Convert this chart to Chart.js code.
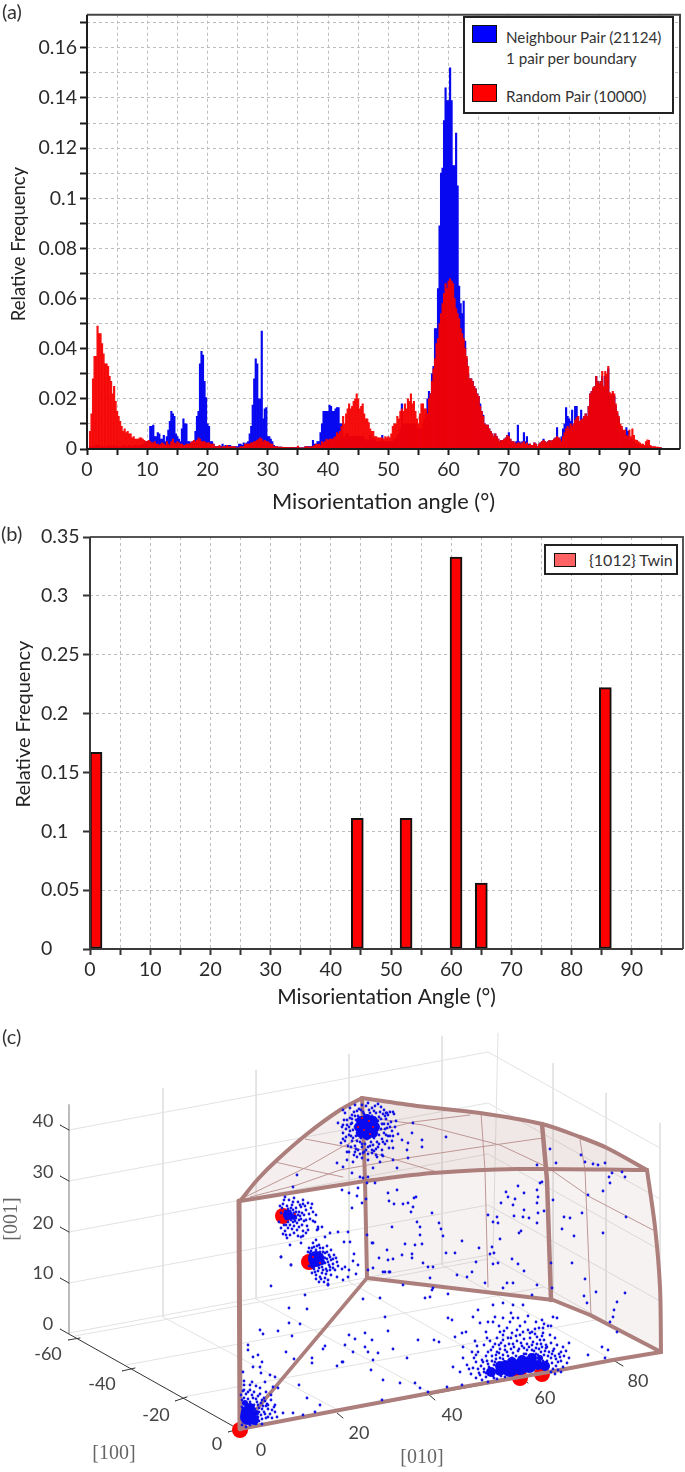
<!DOCTYPE html>
<html lang="en">
<head>
<meta charset="UTF-8">
<title>Misorientation angle distributions</title>
<script src="https://cdn.jsdelivr.net/npm/chart.js"></script>
<style>
  body { margin: 0; background: #fff; font-family: Lato, sans-serif; color: #222; overflow: hidden; }
  #page { position: relative; width: 685px; height: 1472px; overflow: hidden; }
  canvas { position: absolute; left: 0; }
  .tag { position: absolute; font-size: 20px; color: #333; line-height: 22px; }
  .ytitle { position: absolute; font-size: 18.5px; color: #222; white-space: nowrap; transform: translate(-50%, -50%) rotate(-90deg); }
  .legend { position: absolute; background: #fff; border: 2px solid #222; box-sizing: border-box; }
  .swatch { position: absolute; border: 1.5px solid #111; box-sizing: border-box; }
  .ltext { position: absolute; font-size: 15.2px; color: #333; white-space: nowrap; line-height: 18px; }
</style>
</head>
<body>
<div id="page">
  <canvas id="chartA" width="685" height="515" style="top:0"></canvas>
  <canvas id="chartB" width="685" height="505" style="top:515px"></canvas>
  <canvas id="chartC" width="685" height="452" style="top:1020px"></canvas>

  <div class="tag" style="left:2px;top:0">(a)</div>
  <div class="tag" style="left:1px;top:522px">(b)</div>
  <div class="tag" style="left:2px;top:1025px">(c)</div>

  <div class="ytitle" style="left:18px;top:244px">Relative Frequency</div>
  <div class="ytitle" style="left:22px;top:724px;font-size:20px">Relative Frequency</div>

  <div class="legend" style="left:463px;top:16px;width:211px;height:98px">
    <div class="swatch" style="left:7px;top:7px;width:25px;height:18px;background:#00f"></div>
    <div class="ltext" style="left:41px;top:10px">Neighbour Pair (21124)</div>
    <div class="ltext" style="left:41px;top:31px">1 pair per boundary</div>
    <div class="swatch" style="left:7px;top:66px;width:25px;height:18px;background:#f00"></div>
    <div class="ltext" style="left:41px;top:69px">Random Pair (10000)</div>
  </div>
  <div class="legend" style="left:544px;top:544px;width:134px;height:31px">
    <div class="swatch" style="left:8px;top:7px;width:22px;height:14px;background:#ff6262"></div>
    <div class="ltext" style="left:43px;top:5px;font-size:16px">{1012} Twin</div>
  </div>
</div>

<script>
// bins are 0.25 deg wide starting at 0.5 deg, values in units of 0.001, 20 values per 5 deg
const neighbourPair = [
  1,1,1,1,1.5,1.5,1.5,1,1,1,1,1,1,1.5,1,1,1.5,1,1,1,
  1,1,1,1.5,1,1,1.5,1,1,1.5,1.5,1,1.5,1,1.5,2,2,3,3,3,
  9,9,9.5,5,5,6.5,6,4,4,5.5,3,5,7.5,11,15,14,13,6,5,4,
  3,8,12,10,10,3,3,2.5,3,3,7,13,15,34,39,37.5,27,20.5,10,9,
  3,3,2,1,1,1,1,1,2,1,1.5,1,1.5,1.5,1,1,1,1,1,2,
  2,1.5,2.5,2,2.5,3,6,9,17.5,28,36,34,20,20,47,12,16,16.5,5,5,
  4,3,1.5,1,1,0.8,0.8,0.8,0.7,0.7,0.7,0.6,0.6,0.6,0.7,0.6,0.6,0.6,0.8,0.5,
  0.5,0.5,0.5,1,1,1,1,1,3.5,2,2,3,3,6.5,10,15,15,15,15,17.5,
  17,15,15,16,16.5,16.5,10,10,5,5,6,6,5,5,5,5,5,5,5,5,
  5,5,4,4,3,3.5,5.5,4,4,4,3,3,3,3,5.5,3,3,3,3,3,
  3,3,4,4,5,6,8,18,10,10,10,10,10,10,10,10,10,8,8,8,
  8,10,12,14,20,23,22,30,33,48,48,64,89,110,112,131,144,139,139,152,
  139,113,113,126,105,65,58,54,59,43,36,30,28,28,27,25,24,22,21,18,
  15,13.5,10,9.5,9.5,8,7,6,5,6,5,4,3,3.5,3.5,4,4.5,5.5,6.5,4,
  3,3,2.5,3,9.5,3,2.5,3,6.5,3,5,2,2,1.5,1.5,2.5,2,1,2,2.5,
  3,4,3,2.5,3,3.5,3,3.5,4,4.5,8.5,4.5,4,5,8,10,16.5,13,12,11,
  15.5,9,17,17,13,11,15.5,12,13,14,13,17,22,23,24,25,29,27,26,27,
  29,24,29,29,32,21,21,22,21,17,14,12,9,8,7,6,8.5,7,4,4,
  4,3,2,2,2,1,1,1,1,1,1,1,1,0.5,0.5,0.5,0.5,0.5,0.5,0.5
];
const randomPair = [
  7,14,28,37,37,49,46,46,42,38,34,34,33,29,27,22,25,19,15,13,
  11,9,7,8,6.5,7,6,6,4.5,5,4,4,4,4.5,4.5,4,3.5,3,3,3.5,
  3,2.5,2.5,3,2,2,1.5,2,2.5,2,1.5,3,2,1.5,3,4,2.5,2,3,2.5,
  2,2,1.5,1.5,2,2,2,2.5,3,3.5,3,3.5,4.5,4,3,3,3,2.5,2.5,2.5,
  2,2,2,1,1,1,1.5,0.5,1,1,1,1.5,1,1,1,1,1,0.5,0.5,0.5,
  1,1,1,2,2,2,2,2.5,2.5,3,3,3.5,4,4.5,4,3,3.5,3,3,2.5,
  2,2,1,1,1,0.8,0.8,0.8,0.7,0.7,0.7,0.6,0.6,0.6,0.7,0.6,0.6,0.6,1.2,0.5,
  0.5,0.5,0.5,1,1,0.8,0.8,1,1,1.5,2,1.8,2,1.5,3,2.5,3,4,3.5,4,
  4,4,4.5,5,6.5,6,7,9,13,10,14,16,18,16,17,19,20,22,20,16,
  17,18,14,12,12,10.5,8,7,7,5,5,4.5,4.5,4.5,4.5,4,5,4.5,5,4.5,
  6,9,10,10,13,12,15,16,15,18,16,20,19,22,18,19,15,12,10,14,
  18,18,16,16,14,20,22,27,32,36,42,44,50,54,58,62,66,64,67,68,
  67,66,60,56,54,52,48,46,44,40,37,33,28,28,27,25,24,22,21,17,
  15,13,10,9.5,9.5,8,7,6,5,6,5,4,3,3.5,3.5,4,4.5,5.5,5,4,
  3,3,2.5,2,2.5,2.5,2,2.5,3,2,2.5,1.5,2,1.5,1.5,2.5,2,1,2,2.5,
  3,3.5,3,2.5,3,3.5,3,3.5,4,4.5,5,4.5,4,3,5,6.5,8,9,8,10,
  9,10,11.5,12.5,13,11,11.5,12,13,14,13,17,22,23,24.5,25,29,27,26,27,
  31,25,31,30,33,22.5,22,23,22,18,15,13,10,9,7.5,7.5,5.5,5,7.5,5,
  8,5.5,3.7,3.5,3,2.5,2,2,1.5,3,3.7,3.5,1.5,1,1,1,0.8,0.8,0.7,0.5
];
const firstBin = 0.5, binStep = 0.25;
const angleTicks = [0,5,10,15,20,25,30,35,40,45,50,55,60,65,70,75,80,85,90,95];
const freqTicksA = [0,0.01,0.02,0.03,0.04,0.05,0.06,0.07,0.08,0.09,0.1,0.11,0.12,0.13,0.14,0.15,0.16,0.17];
const freqLabelsA = [0,0.02,0.04,0.06,0.08,0.1,0.12,0.14,0.16];

const twinAngles = [1,44.4,52.5,60.8,65,85.6];
const twinFreq = [0.167,0.111,0.111,0.333,0.056,0.222];
const freqTicksB = [0,0.05,0.1,0.15,0.2,0.25,0.3,0.35];

// panel (c), a 3D view: everything below is in projected picture-plane units
const ridgeEdge = [[240,1201],[258,1179],[277,1160],[307,1134],[340,1110],[362,1098]];
const backTopEdge = [[362,1098],[417,1106],[480,1113],[542,1124],[580,1137],[607,1148],[647,1170]];
const frontTopEdge = [[240,1201],[340,1185],[373,1180],[433,1173],[517,1169],[647,1170]];
const rightEdge = [[647,1170],[655,1227],[660,1287],[661,1352]];
const bottomFrontEdge = [[240,1429],[345,1409],[457,1388],[560,1370],[613,1360],[661,1352]];
const bottomInnerEdge = [[240,1429],[367,1278]];
const bottomBackEdge = [[367,1278],[553,1300],[590,1315],[661,1352]];
const rearVertical = [[362,1098],[365,1180],[367,1278]];
const midVertical = [[542,1124],[547,1180],[551,1300]];
const frontVertical = [[240,1429],[239,1201]];

const thinLines = [
  [[305,1139],[363,1150],[437,1172]],
  [[275,1162],[310,1170],[343,1177]],
  [[243,1198],[307,1167],[340,1148],[370,1133],[413,1122],[470,1115]],
  [[250,1197],[297,1185],[340,1170],[407,1158],[473,1148],[543,1138]],
  [[363,1117],[423,1125],[500,1145],[547,1167],[590,1197],[653,1230]],
  [[481,1113],[485,1170],[488,1287]],
  [[580,1140],[585,1170],[591,1315]]
];
const boxLines = [
  [[69,1130],[488,1052],[660,1148]],
  [[69,1181],[488,1103],[660,1199]],
  [[69,1232],[488,1154],[660,1250]],
  [[69,1283],[488,1205],[660,1301]],
  [[69,1333],[488,1255],[660,1352]],
  [[163,1088],[163,1317]],
  [[256,1070],[256,1299]],
  [[349,1054],[349,1282]],
  [[442,1036],[442,1265]],
  [[498,1033],[493,1255]],
  [[553,1063],[553,1292]],
  [[606,1093],[606,1322]],
  [[660,1123],[660,1352]],
  [[75,1336],[163,1320],[488,1259]],
  [[126,1365],[544,1287]],
  [[183,1397],[601,1319]],
  [[340,1411],[163,1317]],
  [[432,1394],[256,1299]],
  [[520,1378],[349,1282]],
  [[613,1360],[442,1265]]
];
const axisSegments = [
  [[60,1329],[240,1430]],
  [[240,1429],[661,1352]],
  [[60,1125],[69,1130]],[[60,1176],[69,1181]],[[60,1227],[69,1232]],[[60,1278],[69,1283]],
  [[68,1340],[80,1338]],[[122,1371],[135,1368]],[[175,1401],[187,1397]],[[228,1432],[240,1429]],
  [[337,1413],[343,1418]],[[427,1393],[435,1400]],[[520,1377],[528,1383]],[[613,1360],[623,1366]]
];
const zAxisLine = [[69,1105],[69,1333]];

const topFaceLeft = [[240,1201],[258,1179],[277,1160],[307,1134],[340,1110],[362,1098],[365,1180],[340,1185]];
const topFaceRight = [[362,1098],[417,1106],[480,1113],[542,1124],[580,1137],[607,1148],[647,1170],[517,1169],[433,1173],[373,1180],[365,1180]];
const wallFace = [[365,1180],[433,1173],[517,1169],[647,1170],[655,1227],[660,1287],[661,1352],[590,1315],[553,1300],[367,1278]];

const twinDots = [[240,1430],[283,1216],[309,1262],[520,1378],[542,1374],[367,1127]];

const scatterWall = [[388,1193],[397,1190],[389,1201],[394,1204],[408,1203],[414,1198],[416,1197],[413,1207],[411,1212],[403,1204],[432,1213],[417,1222],[439,1223],[392,1227],[420,1227],[441,1229],[420,1235],[443,1236],[462,1241],[372,1243],[405,1244],[415,1245],[422,1244],[402,1255],[412,1254],[387,1250],[379,1258],[388,1260],[393,1259],[412,1258],[446,1253],[455,1253],[479,1248],[492,1247],[490,1254],[494,1253],[512,1259],[518,1264],[524,1271],[476,1262],[498,1263],[493,1264],[373,1268],[383,1272],[389,1272],[423,1263],[428,1267],[433,1267],[457,1275],[467,1277],[472,1272],[430,1278],[403,1285],[485,1283],[503,1288],[513,1283],[507,1283],[537,1285],[552,1288],[532,1295],[551,1263],[572,1263],[585,1279],[596,1292],[584,1296],[587,1303],[625,1293],[617,1302],[614,1310],[613,1317],[610,1322],[617,1332],
  [506,1192],[508,1197],[518,1186],[524,1193],[515,1199],[513,1205],[501,1203],[537,1190],[538,1197],[537,1203],[542,1182],[553,1200],[544,1211],[538,1213],[514,1216],[523,1217],[524,1210],[529,1218],[488,1215],[497,1217],[493,1222],[498,1223],[537,1223],[521,1231],[519,1233],[500,1239],[562,1229],[574,1236],[564,1217],[570,1218],[603,1233],[603,1191],[588,1195],[582,1213],[609,1177],[610,1183],[625,1177],[626,1217],[612,1173],[622,1172],[605,1163],[593,1164],[598,1165],[585,1162],[581,1155],[550,1149],[556,1163],[537,1165],[540,1183]];
const scatterFloor = [[448,1318],[452,1320],[473,1317],[478,1310],[493,1305],[503,1303],[513,1305],[523,1305],[495,1317],[503,1318],[511,1313],[513,1318],[480,1323],[488,1322],[493,1322],[542,1320],[544,1324],[553,1317],[557,1318],[548,1326],[517,1330],[532,1332],[539,1328],[543,1333],[462,1333],[466,1332],[455,1337],[475,1341],[486,1332],[500,1332],[503,1335],[463,1347],[478,1352],[453,1367],[467,1365],[460,1372],[476,1378],[462,1385],[482,1360],[569,1343],[561,1352],[588,1355],[608,1350],[605,1358],[602,1347],[432,1290],[425,1298],[430,1297],[448,1294],[433,1288],[380,1298],[363,1299],[385,1317],[388,1331],[434,1340],[439,1342],[418,1340],[393,1349],[365,1333],[349,1335],[355,1339],[345,1345],[372,1340],[365,1347],[368,1352],[373,1360],[378,1353],[353,1352],[407,1358],[371,1370],[383,1380],[400,1383],[415,1383],[420,1388],[428,1392],[447,1387],[382,1400],[342,1362]];
const scatterLeft = [[248,1345],[248,1350],[243,1372],[253,1357],[258,1355],[262,1362],[260,1367],[253,1367],[261,1373],[270,1375],[265,1382],[252,1382],[260,1330],[263,1334],[278,1331],[292,1336],[300,1324],[289,1323],[286,1352],[275,1377],[273,1387],[278,1388],[294,1359],[299,1385],[307,1398],[320,1405],[312,1358],[312,1363],[325,1346],[323,1349],[337,1366],[343,1362],[289,1308],[307,1309],[305,1295],[271,1286],[281,1257],[291,1265],[328,1285],[337,1277],[275,1405],[283,1413],[293,1413],[303,1415],[315,1412],[277,1417],[272,1418]];
const scatterMiddle = [[342,1190],[349,1193],[358,1188],[357,1196],[362,1203],[352,1208],[366,1199],[367,1235],[338,1232],[348,1232],[344,1242],[350,1242],[330,1233],[325,1237],[318,1227],[322,1227],[313,1221],[317,1230],[303,1236],[301,1243],[290,1245],[281,1257],[291,1265],[354,1254],[353,1261],[345,1267],[349,1270],[342,1269],[358,1265],[356,1274],[348,1277],[343,1280],[373,1243],[368,1270],[385,1272],[390,1272],[328,1280],[328,1285],
  [343,1110],[338,1123],[343,1125],[390,1112],[393,1112],[387,1113],[413,1123],[402,1140],[408,1143],[422,1140],[422,1147],[407,1150],[393,1148],[446,1137],[412,1133],[408,1158],[393,1160],[397,1168],[343,1167],[337,1163],[297,1175],[293,1187],[352,1173],[360,1177],[363,1178],[368,1177],[375,1183],[367,1183],[373,1168],[380,1162],[382,1155],[377,1157],[368,1160],[362,1158],[357,1157],[347,1160],[353,1162],[347,1152],[355,1152],[363,1153],[372,1150]];
const clusterTop = [[345,1113],[350,1108],[355,1105],[361,1110],[366,1106],[372,1108],[378,1104],[384,1110],[388,1115],[352,1115],[358,1116],[347,1120],[351,1124],[346,1129],[349,1135],[345,1141],[348,1146],[352,1141],[355,1146],[358,1150],[362,1147],[366,1150],[370,1146],[374,1151],[378,1147],[382,1150],[385,1144],[389,1148],[392,1141],[388,1136],[392,1131],[387,1128],[391,1122],[386,1119],[383,1114],[376,1113],[370,1113],[364,1114],[356,1120],[353,1130],[356,1136],[360,1142],[365,1144],[371,1142],[377,1142],[382,1139],[384,1133],[382,1124],[379,1117],[372,1116],[359,1123],[355,1127],[357,1133],[361,1138],[367,1139],[374,1138],[379,1135],[381,1129],[378,1121],[367,1117],[343,1133],[341,1143],[349,1152],[354,1155],[360,1154],[368,1154],[376,1155],[383,1156],[395,1127],[398,1134],[396,1121],[394,1114],
  [352,1119],[354,1112],[359,1109],[363,1112],[369,1110],[374,1111],[380,1112],[385,1116],[349,1127],[350,1131],[351,1136],[352,1123],[355,1116],[361,1118],[365,1120],[370,1119],[375,1118],[381,1119],[384,1124],[385,1129],[386,1135],[383,1142],[379,1144],[373,1145],[368,1147],[362,1144],[357,1141],[353,1138],[347,1125],[344,1120],[342,1127],[388,1124],[390,1127],[390,1136],[387,1141],[393,1136],[376,1149],[372,1153],[364,1152],[356,1149],[351,1147],[346,1137],[343,1139],[350,1118],[357,1111],[362,1105],[368,1103],[375,1106],[381,1107],[386,1113]];
const clusterTwinA = [[285,1197],[289,1200],[294,1198],[298,1202],[303,1200],[308,1203],[283,1204],[287,1206],[292,1205],[296,1208],[301,1207],[306,1210],[311,1208],[285,1211],[290,1211],[294,1213],[299,1212],[304,1215],[309,1214],[313,1212],[296,1218],[301,1219],[306,1220],[310,1219],[297,1223],[302,1225],[307,1226],[293,1222],[288,1222],[284,1225],[288,1228],[292,1229],[297,1230],[303,1231],[285,1231],[281,1228],[283,1234],[290,1235],[298,1236],[287,1238],[306,1233],[315,1222],[318,1229],[291,1217],[300,1216],[303,1204],[279,1222],
  [282,1208],[284,1214],[286,1219],[288,1209],[291,1208],[293,1210],[296,1212],[298,1215],[291,1220],[295,1221],[299,1220],[302,1213],[286,1225],[290,1225],[294,1226],[299,1227],[281,1213],[280,1206],[284,1200],[293,1202],[300,1205],[305,1206],[312,1204],[316,1215],[304,1221],[308,1230],[286,1235],[294,1233],[301,1237]];
const clusterTwinB = [[313,1243],[316,1240],[319,1245],[323,1248],[312,1248],[316,1250],[320,1252],[325,1253],[329,1255],[310,1253],[314,1255],[318,1257],[323,1257],[327,1259],[331,1260],[308,1252],[321,1262],[325,1263],[329,1265],[333,1264],[318,1265],[322,1267],[326,1269],[330,1270],[314,1269],[318,1271],[322,1273],[326,1274],[316,1275],[320,1277],[325,1278],[312,1273],[328,1284],[319,1282],[334,1255],[337,1262],[335,1270],[309,1266],[327,1246],[331,1250],
  [309,1248],[311,1251],[313,1258],[311,1262],[315,1262],[319,1261],[322,1255],[325,1258],[328,1262],[330,1257],[333,1259],[320,1248],[323,1252],[317,1246],[314,1247],[327,1252],[330,1267],[327,1271],[323,1270],[319,1268],[315,1272],[312,1267],[321,1279],[316,1279],[333,1268],[336,1258],[338,1266],[310,1256],[331,1275],[324,1282]];
const clusterBottom = [[481,1366],[484,1372],[487,1361],[489,1367],[492,1356],[491,1374],[495,1362],[497,1352],[500,1358],[488,1352],[493,1347],[499,1345],[505,1350],[503,1340],[509,1344],[514,1347],[511,1338],[517,1341],[520,1335],[524,1339],[527,1344],[530,1338],[533,1342],[537,1337],[541,1344],[544,1340],[547,1347],[551,1343],[554,1349],[557,1345],[559,1354],[556,1359],[552,1354],[548,1356],[545,1351],[541,1352],[536,1348],[532,1350],[527,1350],[522,1346],[518,1351],[513,1353],[508,1356],[503,1355],[498,1364],[486,1377],[494,1378],[501,1376],[524,1354],[530,1355],[536,1354],[541,1358],[547,1361],[552,1363],[556,1366],[561,1361],[563,1367],[558,1370],[553,1369],[520,1326],[512,1333],[504,1331],[497,1338],[490,1341],[484,1345],[476,1355],[528,1330],[535,1329],[542,1336],[550,1335],[555,1338],[563,1347],[480,1375],[473,1368],[471,1374],[507,1328],[525,1322],
  [486,1373],[490,1369],[494,1365],[496,1359],[499,1353],[503,1359],[505,1346],[507,1352],[511,1349],[513,1344],[516,1356],[519,1349],[521,1343],[524,1348],[526,1354],[529,1347],[532,1345],[534,1351],[537,1344],[539,1349],[542,1347],[544,1355],[546,1348],[549,1352],[551,1358],[553,1351],[555,1356],[558,1362],[560,1357],[548,1366],[551,1372],[555,1374],[546,1345],[540,1340],[535,1334],[530,1333],[523,1332],[516,1336],[508,1338],[501,1343],[495,1344],[491,1350],[486,1356],[483,1362],[478,1369],[482,1380],[488,1382],[476,1362],[474,1358],[469,1369],[500,1349],[496,1355],[492,1361],[503,1365],[509,1360],[512,1358],[517,1361],[523,1359],[527,1358],[533,1357],[538,1355],[543,1361],[493,1376],[497,1379],[505,1377],[498,1369],[488,1364],[484,1369],[479,1373],[564,1356],[566,1351],[569,1358],[561,1372],[567,1363],[543,1328],[551,1326],[518,1318],[528,1316],[536,1322],[510,1322],[499,1326],[487,1338],[477,1346],[472,1352],[463,1358]];
const clusterOrigin = [[243,1391],[246,1394],[250,1390],[254,1392],[258,1396],[244,1398],[248,1399],[253,1398],[262,1400],[267,1404],[271,1400],[257,1402],[263,1406],[268,1409],[274,1407],[243,1403],[259,1408],[264,1412],[270,1414],[261,1415],[255,1418],[259,1421],[266,1418],[275,1412],[252,1423],[242,1425],[244,1385],[256,1386],
  [241,1395],[244,1390],[248,1392],[252,1395],[256,1399],[260,1394],[264,1398],[242,1400],[246,1404],[250,1402],[254,1405],[258,1405],[261,1403],[265,1401],[268,1405],[272,1410],[242,1407],[251,1412],[255,1409],[259,1412],[262,1409],[266,1406],[242,1413],[243,1419],[254,1415],[258,1417],[262,1419],[265,1414],[268,1417],[250,1425],[256,1424],[246,1427],[262,1424],[244,1381],[250,1385],[260,1388],[266,1392],[271,1395]];

const coreLarge = [[367,1127],[520,1367],[529,1365],[510,1369],[248,1417],[316,1259]];
const coreMedium = [[500,1371],[538,1365],[491,1372],[545,1366],[500,1366],[512,1362],[522,1360],[532,1358],[250,1408],[246,1411],[254,1420],[288,1215],[359,1127],[375,1127],[367,1119],[367,1135],[361,1121],[373,1121],[361,1133],[373,1133]];
const coreSmall = [[245,1403],[256,1413],[294,1217],[322,1262],[313,1265],[505,1363],[540,1358]];
const twinSpecks = [[362,1118],[369,1121],[373,1127],[364,1130],[370,1134],[358,1127],[313,1257],[320,1263],[295,1214]];

// tick labels of panel (c)
const zTickLabels = ['40','30','20','10','0'];
const zTickSpots = [[43,1121],[43,1172],[43,1223],[43,1273],[48,1324]];
const xTickLabels = ['-60','-40','-20','0'];
const xTickSpots = [[48,1354],[102,1384],[156,1415],[217,1444]];
const yTickLabels = ['0','20','40','60','80'];
const yTickSpots = [[261,1450],[359,1433],[452,1415],[545,1398],[638,1381]];
const axisNames = ['[100]','[010]'];
const axisNameSpots = [[114,1454],[422,1458]];

function toPoints(pairs) { return pairs.map(p => ({ x: p[0], y: p[1] })); }
function joinLines(lines) {
  const out = [];
  lines.forEach(l => { l.forEach(p => out.push({ x: p[0], y: p[1] })); out.push({ x: null, y: null }); });
  return out;
}

const frame = {
  id: 'frame',
  afterDatasetsDraw(chart, args, opts) {
    const a = chart.chartArea, c = chart.ctx;
    c.save();
    c.lineWidth = opts.lineWidth;
    c.strokeStyle = opts.farColor;
    c.beginPath();
    c.moveTo(a.left, a.top); c.lineTo(a.right, a.top); c.lineTo(a.right, a.bottom);
    c.stroke();
    c.strokeStyle = opts.nearColor;
    c.beginPath();
    c.moveTo(a.left, a.top); c.lineTo(a.left, a.bottom); c.lineTo(a.right, a.bottom);
    c.stroke();
    c.restore();
  }
};

function histAxes(o) {
  return {
    x: {
      type: 'linear', min: 0, max: o.xMax, offset: false,
      afterBuildTicks: s => { s.ticks = angleTicks.map(v => ({ value: v })); },
      afterFit: s => { s.height = o.xHeight; },
      grid: { offset: false, color: '#bdbdbd', tickColor: o.tickColor, tickWidth: 2, tickLength: 6 },
      border: { dash: [3, 3], display: false },
      ticks: { autoSkip: false, maxRotation: 0, padding: o.xPad, color: '#2a2a2a',
        font: { family: 'Lato', size: o.tickSize }, callback: v => v % 10 === 0 ? String(v) : '' },
      title: { display: true, text: o.xTitle, color: '#222', font: { family: 'Lato', size: o.titleSize },
        padding: { top: 0, bottom: o.titleBottom } }
    },
    y: {
      type: 'linear', min: 0, max: o.yMax,
      afterBuildTicks: s => { s.ticks = o.yTicks.map(v => ({ value: v })); },
      afterFit: s => { s.width = o.yWidth; },
      grid: { color: '#bdbdbd', tickColor: o.tickColor, tickWidth: 2, tickLength: 7 },
      border: { dash: [3, 3], display: false },
      ticks: { autoSkip: false, padding: o.yPad, color: '#2a2a2a', crossAlign: o.crossAlign,
        font: { family: 'Lato', size: o.tickSize }, callback: o.yLabel }
    }
  };
}

const binAngles = randomPair.map((v, i) => firstBin + binStep * i);

new Chart(document.getElementById('chartA'), {
  type: 'bar',
  data: {
    datasets: [
      { label: 'Random Pair (10000)', order: 1, backgroundColor: 'rgba(245,0,0,0.93)',
        data: randomPair.map((v, i) => ({ x: binAngles[i], y: v / 1000 })) },
      { label: 'Neighbour Pair (21124)', order: 2, backgroundColor: '#0808f0',
        data: neighbourPair.map((v, i) => ({ x: binAngles[i], y: v / 1000 })) }
    ]
  },
  options: {
    responsive: false, animation: false, events: [],
    layout: { padding: { top: 10, right: 5, left: 0, bottom: 0 } },
    datasets: { bar: { grouped: false, barPercentage: 1, categoryPercentage: 1 } },
    plugins: { legend: { display: false }, tooltip: { enabled: false },
      frame: { lineWidth: 2, nearColor: '#1c1c1c', farColor: '#444' } },
    scales: histAxes({ xMax: 98.4, yMax: 0.1732, xHeight: 66, yWidth: 87, yTicks: freqTicksA,
      tickColor: '#1c1c1c', tickSize: 19.5, titleSize: 21.8, xPad: 3, yPad: 3, titleBottom: 0,
      xTitle: 'Misorientation angle (°)', crossAlign: 'near',
      yLabel: v => freqLabelsA.some(l => Math.abs(l - v) < 1e-6) ? String(+v.toFixed(2)) : '' })
  },
  plugins: [frame]
});

new Chart(document.getElementById('chartB'), {
  type: 'bar',
  data: {
    datasets: [{
      label: '{1012} Twin', backgroundColor: '#f00', borderColor: '#111', borderWidth: 2,
      borderSkipped: false, barThickness: 12,
      data: twinAngles.map((a, i) => ({ x: a, y: twinFreq[i] }))
    }]
  },
  options: {
    responsive: false, animation: false, events: [],
    layout: { padding: { top: 22, right: 2, left: 41, bottom: 0 } },
    plugins: { legend: { display: false }, tooltip: { enabled: false },
      frame: { lineWidth: 2, nearColor: '#3a3a3a', farColor: '#555' } },
    scales: histAxes({ xMax: 98.5, yMax: 0.35, xHeight: 71, yWidth: 49, yTicks: freqTicksB,
      tickColor: '#333', tickSize: 19.5, titleSize: 21, xPad: 3, yPad: 3, titleBottom: 10,
      xTitle: 'Misorientation Angle (°)', crossAlign: 'far',
      yLabel: v => String(+v.toFixed(2)) })
  },
  plugins: [frame]
});

const viewLabels = {
  id: 'viewLabels',
  afterDatasetsDraw(chart) {
    const c = chart.ctx, sx = chart.scales.x, sy = chart.scales.y;
    const put = (t, s) => c.fillText(t, sx.getPixelForValue(s[0]), sy.getPixelForValue(s[1]));
    c.save();
    c.textAlign = 'center';
    c.textBaseline = 'middle';
    c.fillStyle = '#444';
    c.font = '18px Lato';
    zTickLabels.forEach((t, i) => put(t, zTickSpots[i]));
    xTickLabels.forEach((t, i) => put(t, xTickSpots[i]));
    yTickLabels.forEach((t, i) => put(t, yTickSpots[i]));
    c.fillStyle = '#666';
    c.font = '20px "Liberation Serif"';
    axisNames.forEach((t, i) => put(t, axisNameSpots[i]));
    c.translate(sx.getPixelForValue(12), sy.getPixelForValue(1219));
    c.rotate(-Math.PI / 2);
    c.fillText('[001]', 0, 0);
    c.restore();
  }
};

function pathSet(points, color, width, order, fillColor, bend) {
  return { type: 'line', data: points, borderColor: color, borderWidth: width, order: order,
    pointRadius: 0, tension: bend || 0, fill: fillColor ? 'shape' : false,
    backgroundColor: fillColor || 'transparent', borderJoinStyle: 'round', borderCapStyle: 'round' };
}
function dotSet(pairs, color, radius, order) {
  return { type: 'line', showLine: false, data: toPoints(pairs), order: order, pointRadius: radius,
    pointBackgroundColor: color, pointBorderWidth: 0 };
}

const wedgeColor = '#ad7f7c';
new Chart(document.getElementById('chartC'), {
  type: 'line',
  data: {
    datasets: [
      pathSet(joinLines(boxLines), '#e2e2e2', 1, 20),
      pathSet(toPoints(zAxisLine), '#bdbdbd', 2, 19),
      pathSet(joinLines(axisSegments), '#333', 1, 18),
      pathSet(toPoints(topFaceLeft), 'transparent', 0, 17, 'rgba(173,127,124,0.13)'),
      pathSet(toPoints(topFaceRight), 'transparent', 0, 16, 'rgba(173,127,124,0.18)'),
      pathSet(toPoints(wallFace), 'transparent', 0, 15, 'rgba(173,127,124,0.1)'),
      pathSet(joinLines(thinLines), '#bd9694', 1, 14),
      dotSet(twinDots, '#f00', 8, 13),
      pathSet(toPoints(ridgeEdge), wedgeColor, 4, 12, null, 0.35),
      pathSet(toPoints(backTopEdge), wedgeColor, 4, 12, null, 0.3),
      pathSet(toPoints(frontTopEdge), wedgeColor, 4, 12, null, 0.3),
      pathSet(toPoints(rightEdge), wedgeColor, 4, 12, null, 0.3),
      pathSet(toPoints(bottomFrontEdge), wedgeColor, 4, 12),
      pathSet(toPoints(bottomInnerEdge), wedgeColor, 3.5, 12),
      pathSet(toPoints(bottomBackEdge), wedgeColor, 4, 12),
      pathSet(toPoints(rearVertical), wedgeColor, 4, 12),
      pathSet(toPoints(midVertical), wedgeColor, 4.5, 12),
      pathSet(toPoints(frontVertical), wedgeColor, 5, 12),
      dotSet(scatterWall, '#1414e6', 1.4, 6),
      dotSet(scatterFloor, '#1414e6', 1.4, 6),
      dotSet(scatterLeft, '#1414e6', 1.4, 6),
      dotSet(scatterMiddle, '#1414e6', 1.4, 6),
      dotSet(clusterTop, '#1414e6', 1.4, 5),
      dotSet(clusterTwinA, '#1414e6', 1.4, 5),
      dotSet(clusterTwinB, '#1414e6', 1.4, 5),
      dotSet(clusterBottom, '#1414e6', 1.4, 5),
      dotSet(clusterOrigin, '#1414e6', 1.4, 5),
      dotSet(coreLarge, '#0a0af0', 8, 4),
      dotSet(coreMedium, '#0a0af0', 5, 4),
      dotSet(coreSmall, '#0a0af0', 3, 4),
      dotSet(twinSpecks, '#f00', 1, 3)
    ]
  },
  options: {
    responsive: false, animation: false, events: [],
    layout: { padding: 0, autoPadding: false },
    plugins: { legend: { display: false }, tooltip: { enabled: false } },
    scales: {
      x: { type: 'linear', min: 0, max: 685, display: false },
      y: { type: 'linear', min: 1020, max: 1472, reverse: true, display: false }
    }
  },
  plugins: [viewLabels]
});
</script>
</body>
</html>
